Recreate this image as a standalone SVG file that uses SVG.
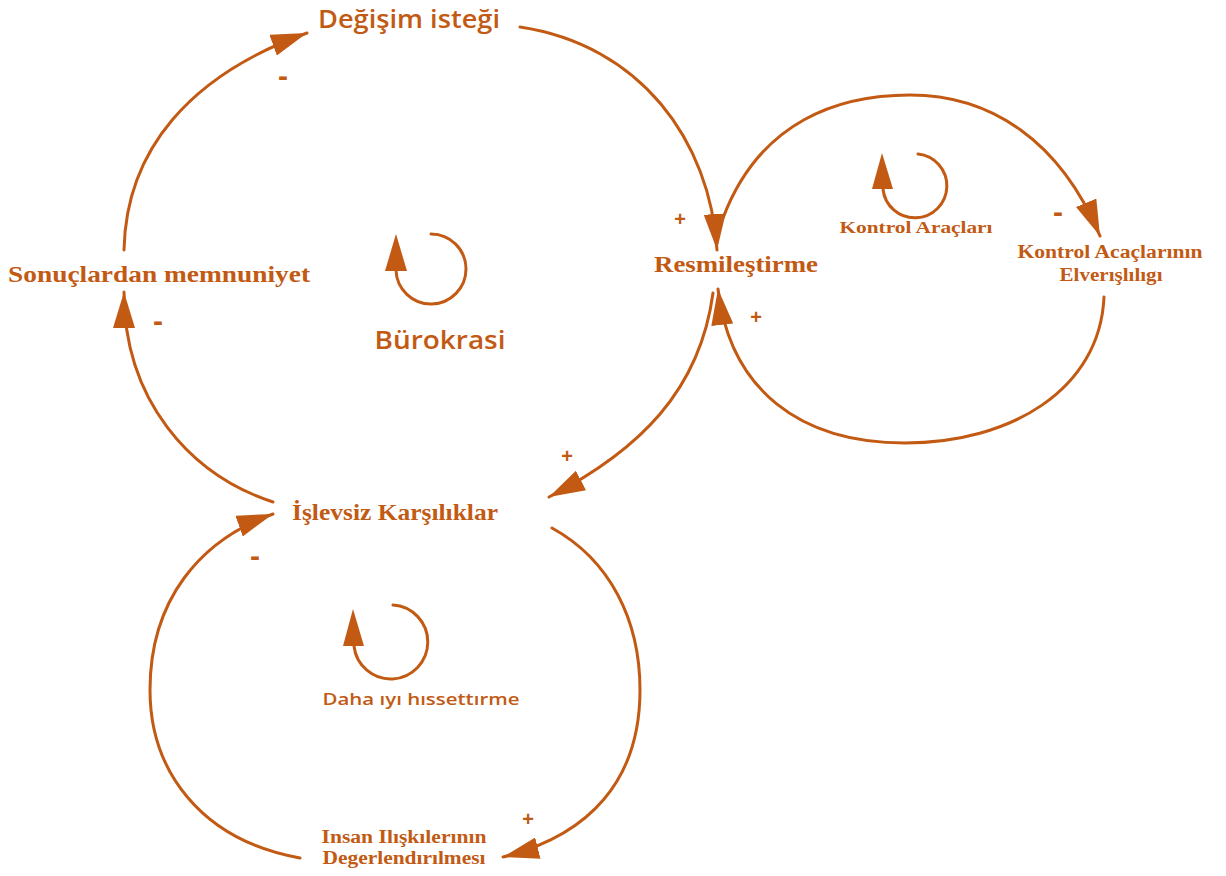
<svg xmlns="http://www.w3.org/2000/svg" width="1226" height="876" viewBox="0 0 1226 876">
<style>
.c{fill:none;stroke:#C25A14;stroke-width:3;stroke-linecap:round}
.ah{fill:#C25A14}
.sans{font-family:"Open Sans","Noto Sans","DejaVu Sans",sans-serif;font-weight:600;fill:#C25A14;text-anchor:middle}
.serif{font-family:"Liberation Serif","DejaVu Serif",serif;font-weight:bold;fill:#C25A14;text-anchor:middle}
.sg{font-family:"Liberation Sans","DejaVu Sans",sans-serif;font-weight:bold;fill:#C25A14;text-anchor:middle;font-size:20px}
.mn{font-family:"Liberation Sans","DejaVu Sans",sans-serif;font-weight:bold;fill:#C25A14;text-anchor:middle;font-size:30px}
</style>
<defs>
<marker id="arr" viewBox="0 0 36 22" refX="36" refY="11" markerWidth="36" markerHeight="22" markerUnits="userSpaceOnUse" orient="auto">
<path d="M0,0 L36,11 L0,22 z" fill="#C25A14"/>
</marker>
</defs>
<rect width="1226" height="876" fill="#ffffff"/>
<g id="connectors">
<path class="c" marker-end="url(#arr)" d="M124,250 C126,150 190,75 307,33"/>
<path class="c" marker-end="url(#arr)" d="M520,27 C640,45 710,140 717,250"/>
<path class="c" marker-end="url(#arr)" d="M723,218 C760,120 840,95 910,95 C990,95 1060,140 1100,236"/>
<path class="c" marker-end="url(#arr)" d="M1104,297 C1100,390 1010,443 905,443 C800,443 730,390 718,289"/>
<path class="c" marker-end="url(#arr)" d="M713,293 C700,390 640,450 549,497"/>
<path class="c" marker-end="url(#arr)" d="M273,502 C190,475 124,400 124,292"/>
<path class="c" marker-end="url(#arr)" d="M300,858 C200,840 150,770 150,690 C150,600 200,540 273,514"/>
<path class="c" marker-end="url(#arr)" d="M552,528 C610,560 640,620 640,690 C640,780 590,835 503,857"/>
<text class="mn" x="283" y="86">-</text>
<text class="mn" x="158" y="331">-</text>
<text class="sg" x="680" y="226">+</text>
<text class="sg" x="756" y="324">+</text>
<text class="mn" x="1058" y="222">-</text>
<text class="sg" x="567" y="463">+</text>
<text class="mn" x="255" y="566">-</text>
<text class="sg" x="528" y="826">+</text>
</g>
<g id="loop-burokrasi">
<path class="c" d="M431,234 A35,35 0 1 1 396,270"/>
<polygon class="ah" points="385,271 407,271 396,234"/>
<text class="sans" x="440" y="349" font-size="26" textLength="131" lengthAdjust="spacingAndGlyphs">Bürokrasi</text>
</g>
<g id="loop-kontrol">
<path class="c" d="M918,154 A32,32 0 1 1 883,189"/>
<polygon class="ah" points="872,189 893,189 882,153"/>
<text class="serif" x="916" y="233" font-size="17" textLength="153" lengthAdjust="spacingAndGlyphs">Kontrol Araçları</text>
</g>
<g id="loop-daha">
<path class="c" d="M393,605 A37,37 0 1 1 354,646"/>
<polygon class="ah" points="343,646 364,646 353,609"/>
<text class="sans" x="421" y="705" font-size="17" textLength="197" lengthAdjust="spacingAndGlyphs">Daha ıyı hıssettırme</text>
</g>
<g id="node-degisim">
<text class="sans" x="409" y="28" font-size="25" textLength="182" lengthAdjust="spacingAndGlyphs">Değişim isteği</text>
</g>
<g id="node-resmilestirme">
<text class="serif" x="736" y="272" font-size="23" textLength="164" lengthAdjust="spacingAndGlyphs">Resmileştirme</text>
</g>
<g id="node-kontrol-elverislilik">
<text class="serif" x="1110" y="258" font-size="18" textLength="185" lengthAdjust="spacingAndGlyphs">Kontrol Acaçlarının</text>
<text class="serif" x="1111" y="281" font-size="18" textLength="103" lengthAdjust="spacingAndGlyphs">Elverışlılıgı</text>
</g>
<g id="node-sonuclardan">
<text class="serif" x="159" y="282" font-size="24" textLength="302" lengthAdjust="spacingAndGlyphs">Sonuçlardan memnuniyet</text>
</g>
<g id="node-islevsiz">
<text class="serif" x="395" y="520" font-size="24" textLength="206" lengthAdjust="spacingAndGlyphs">İşlevsiz Karşılıklar</text>
</g>
<g id="node-insan">
<text class="serif" x="404" y="843" font-size="18" textLength="165" lengthAdjust="spacingAndGlyphs">Insan Ilışkılerının</text>
<text class="serif" x="404" y="864" font-size="18" textLength="163" lengthAdjust="spacingAndGlyphs">Degerlendırılmesı</text>
</g>
</svg>
